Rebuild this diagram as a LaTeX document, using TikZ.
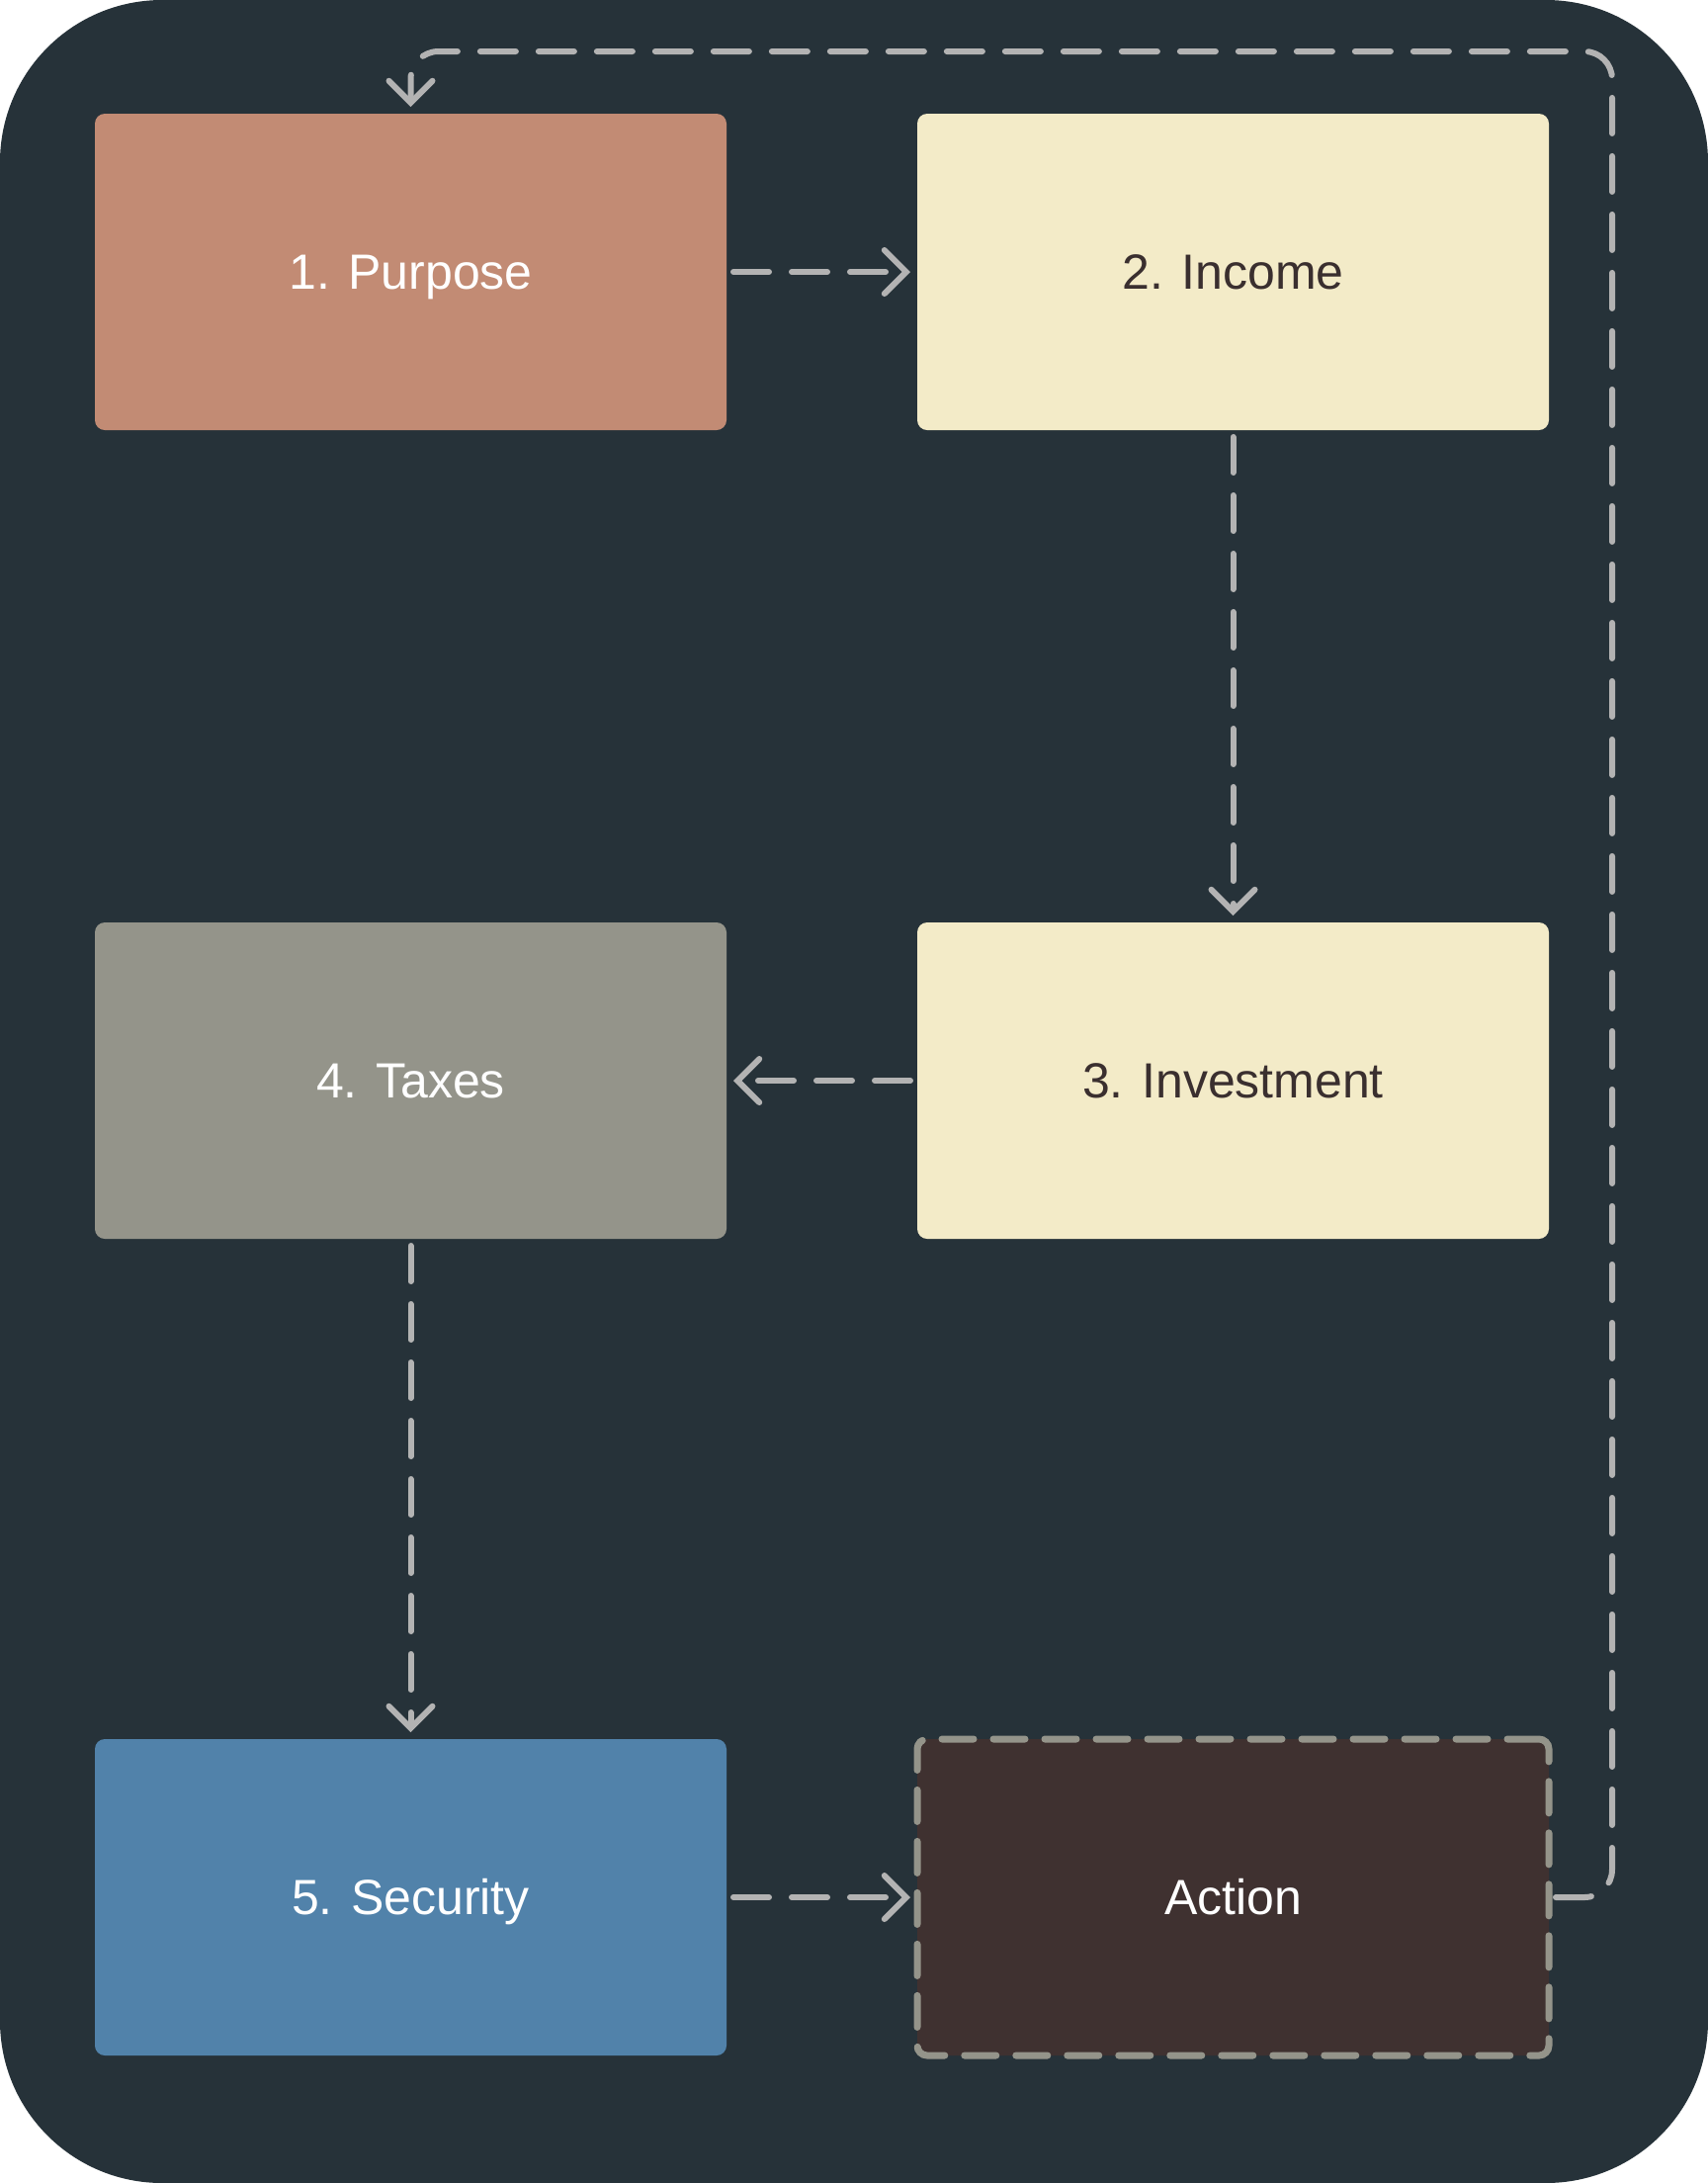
\documentclass[tikz,border=0pt]{standalone}
\usepackage{fontspec}
\setmainfont{Liberation Sans}
\usetikzlibrary{arrows.meta}

\definecolor{bgslate}{HTML}{263239}
\definecolor{purposeclr}{HTML}{C28B74}
\definecolor{creamclr}{HTML}{F3EBC8}
\definecolor{taxclr}{HTML}{94948A}
\definecolor{securityclr}{HTML}{5182AA}
\definecolor{actionclr}{HTML}{3F3130}
\definecolor{linkclr}{HTML}{B3B3B3}
\definecolor{darktext}{HTML}{3A2F2F}

\tikzset{
  stagebox/.style={rectangle, rounded corners=5pt, minimum width=319.5pt,
    minimum height=160pt, outer sep=3.5pt, text height=17.5pt, text depth=0pt,
    font=\fontsize{25}{29}\selectfont},
  flow/.style={draw=linkclr, line width=3pt, line cap=round,
    dash pattern=on 18pt off 11.5pt,
    -{Straight Barb[length=11pt, width=22pt, line cap=round]}},
}

\begin{document}
\begin{tikzpicture}[x=0.5pt, y=-0.5pt]

  % Latar belakang
  \fill[bgslate, rounded corners=82pt] (0,0) rectangle (1728,2208);

  % Kotak tahapan
  \node[stagebox, fill=purposeclr, text=white]   (purpose)    at (415.5,275)  {1. Purpose};
  \node[stagebox, fill=creamclr, text=darktext]  (income)     at (1247.5,275) {2. Income};
  \node[stagebox, fill=creamclr, text=darktext]  (investment) at (1247.5,1093) {3. Investment};
  \node[stagebox, fill=taxclr, text=white]       (taxes)      at (415.5,1093) {4. Taxes};
  \node[stagebox, fill=securityclr, text=white]  (security)   at (415.5,1919) {5. Security};
  \node[stagebox, fill=actionclr, text=white, draw=taxclr, line width=3.5pt,
        dash pattern=on 16pt off 10pt, line cap=round] (action) at (1247.5,1919) {Action};

  % Titik belok jalur kembali
  \coordinate (loop) at (1631,52);

  % Panah alur
  \draw[flow] (purpose) -- (income);
  \draw[flow] (income) -- (investment);
  \draw[flow] (investment) -- (taxes);
  \draw[flow] (taxes) -- (security);
  \draw[flow] (security) -- (action);
  \draw[flow, rounded corners=14pt] (action.east) -| (loop) -| (purpose.north);

\end{tikzpicture}
\end{document}
